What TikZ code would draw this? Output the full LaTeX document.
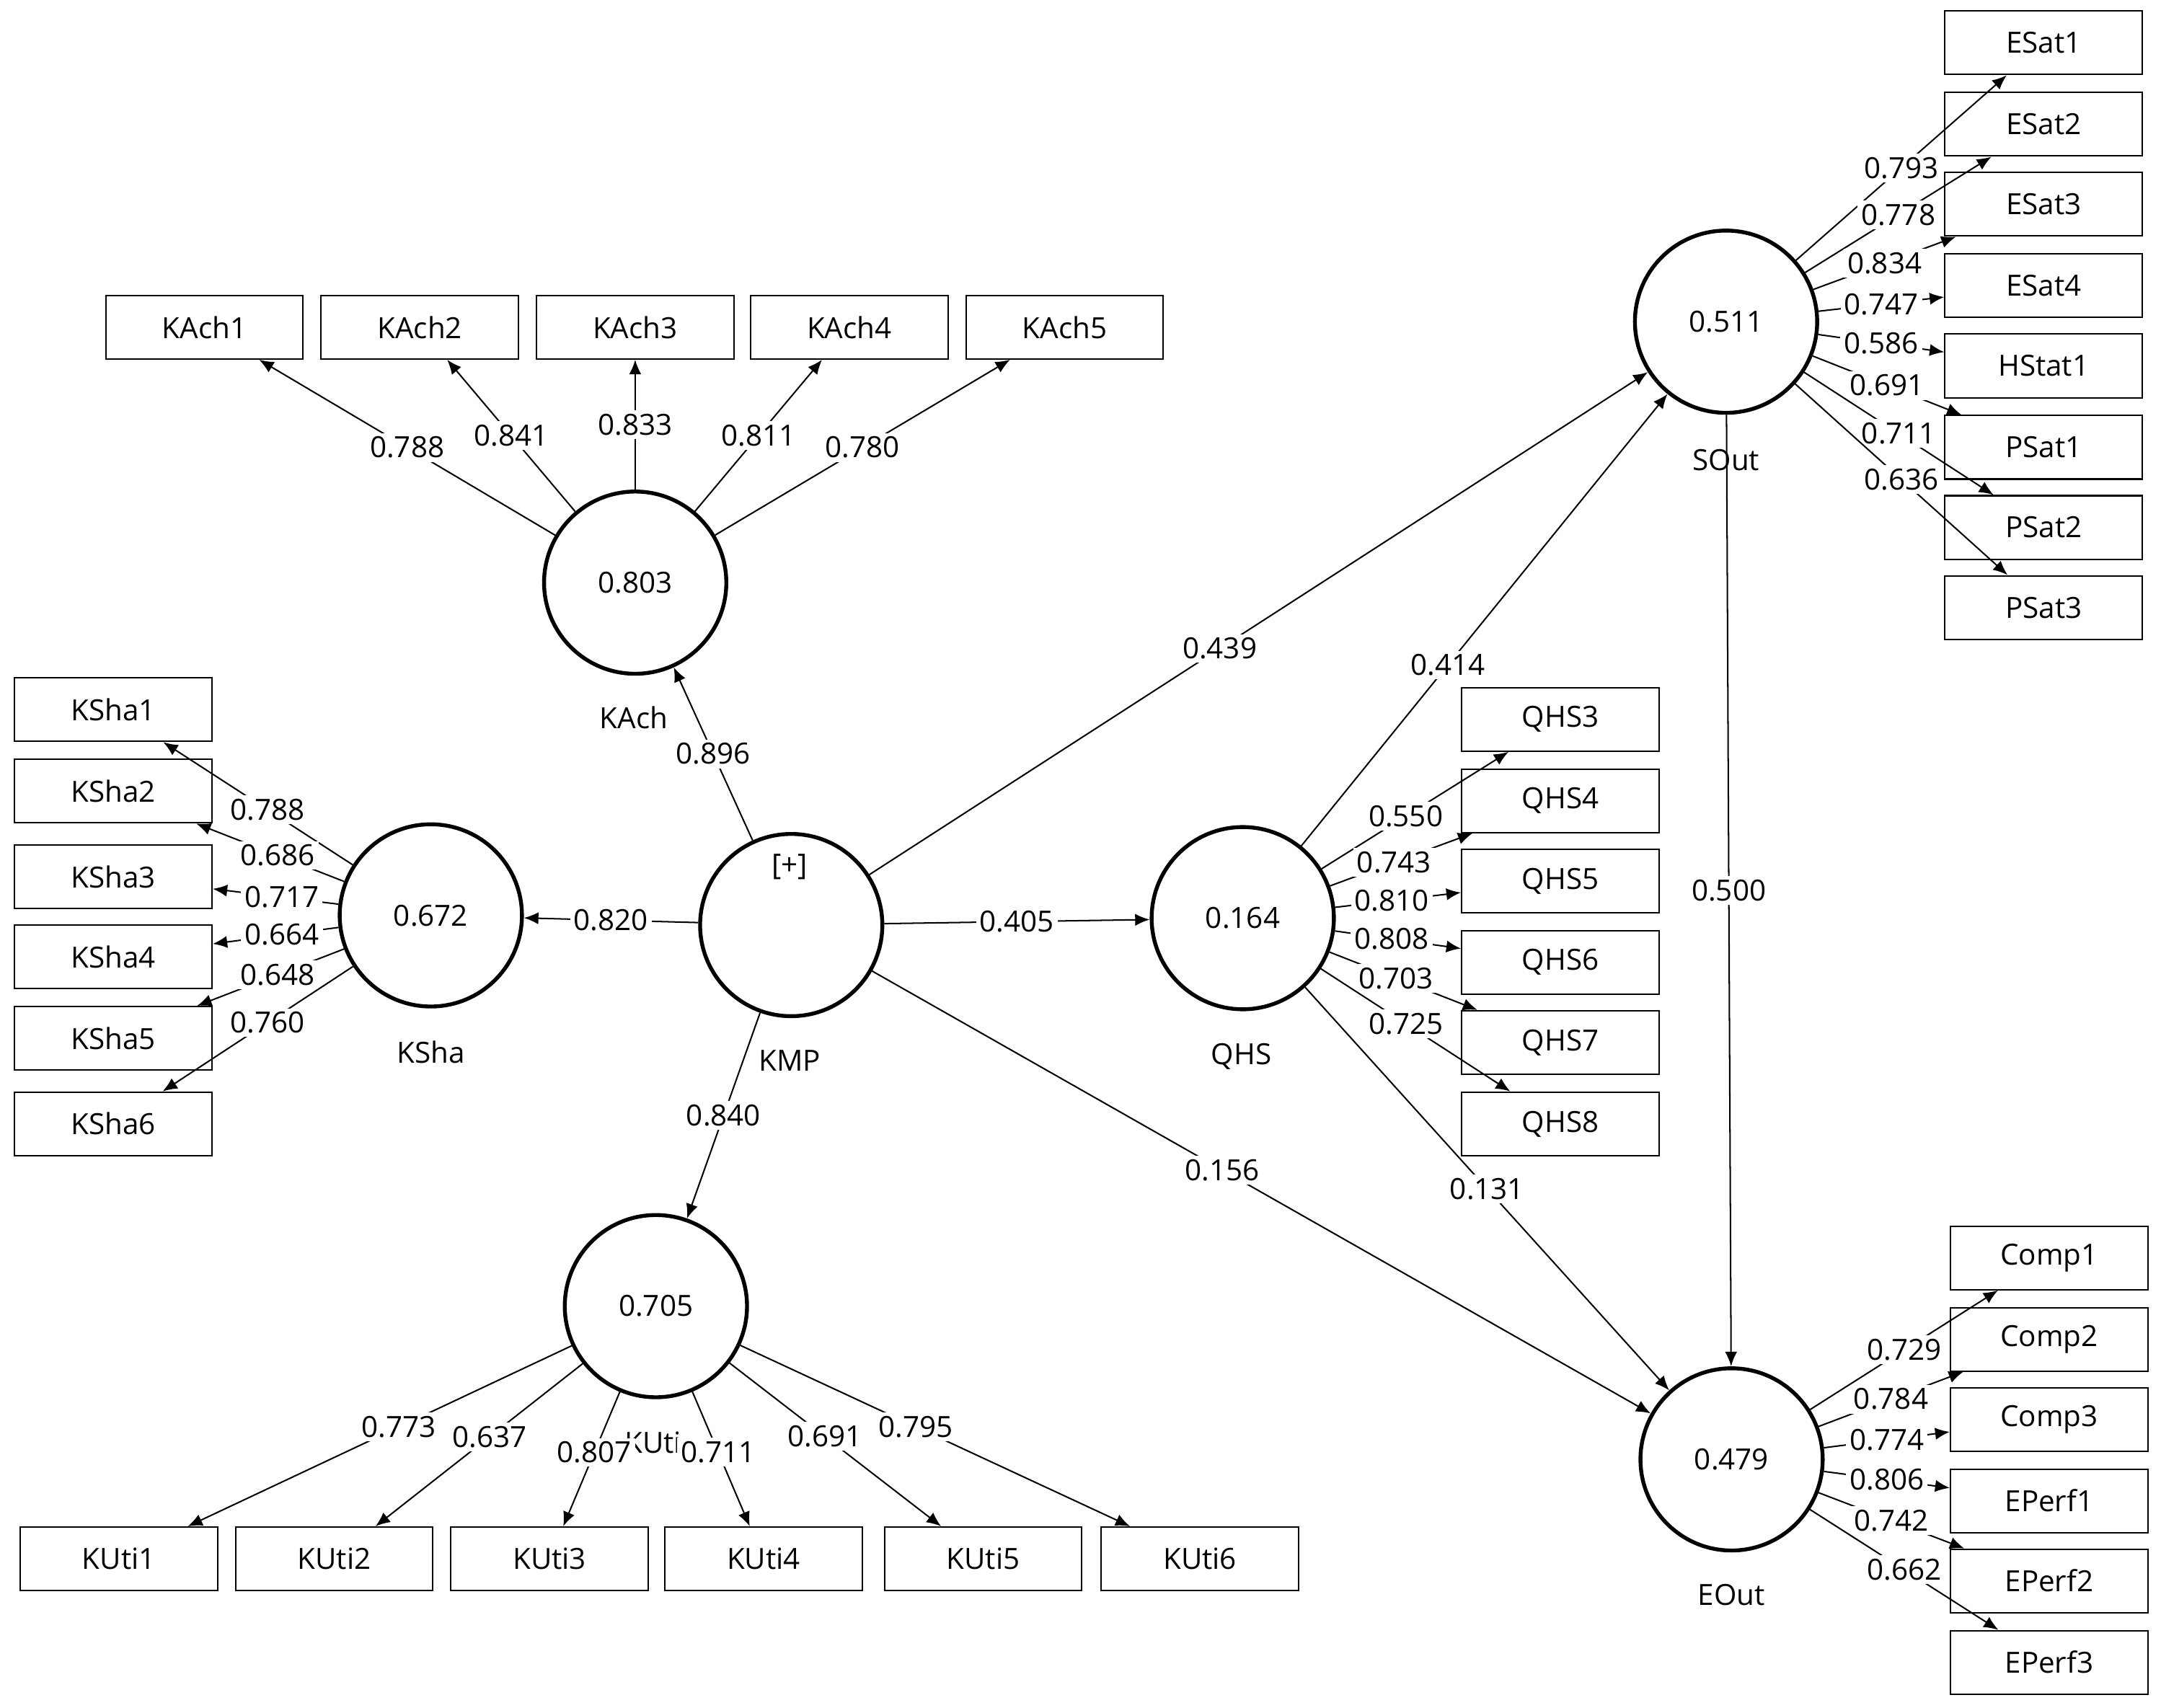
\documentclass[tikz,border=0pt]{standalone}
\usepackage{fontspec}
\setmainfont{Open Sans}
\usetikzlibrary{arrows.meta}

\tikzset{
  lv/.style={circle, draw, line width=1.6pt, minimum size=2.64cm, inner sep=0pt},
  mv/.style={draw, line width=0.6pt, minimum width=2.86cm, minimum height=0.92cm, inner sep=0pt},
  path/.style={-{Latex[length=6pt,width=5pt]}, line width=0.6pt},
  w/.style={fill=white, inner sep=1.5pt},
}

\begin{document}
\begin{tikzpicture}[x={(0.02cm,0)}, y={(0,-0.02cm)}, font=\fontsize{12}{14}\selectfont]
  \useasboundingbox (0,0) rectangle (1565,1237);

  % latent variables
  \node[lv] (KAch) at (460,422) {0.803};
  \node[lv] (KSha) at (312,663) {0.672};
  \node[lv] (KMP)  at (573,670) {};
  \node[lv] (QHS)  at (900,665) {0.164};
  \node[lv] (KUti) at (475,946) {0.705};
  \node[lv] (SOut) at (1250,233) {0.511};
  \node[lv] (EOut) at (1254,1057) {0.479};
  \node at (572,628) {[+]};

  \node at (459,520) {KAch};
  \node at (312,762) {KSha};
  \node at (572,768) {KMP};
  \node at (899,765) {QHS};
  \node at (473,1045) {KUti};
  \node at (1250,333) {SOut};
  \node at (1254,1155) {EOut};

  % indicators
  \foreach \n/\x/\v in {1/148/0.788, 2/304/0.841, 3/460/0.833, 4/615/0.811, 5/771/0.780} {
    \node[mv] (KAch\n) at (\x,237) {KAch\n};
    \draw[path] (KAch) -- (KAch\n) node[w, pos=0.5] {\v};
  }
  \foreach \n/\y/\v in {1/514/0.788, 2/573/0.686, 3/635/0.717, 4/693/0.664, 5/752/0.648, 6/814/0.760} {
    \node[mv] (KSha\n) at (82,\y) {KSha\n};
    \draw[path] (KSha) -- (KSha\n) node[w, pos=0.45] {\v};
  }
  \foreach \n/\x/\v in {1/86/0.773, 2/242/0.637, 3/398/0.807, 4/553/0.711, 5/712/0.691, 6/869/0.795} {
    \node[mv] (KUti\n) at (\x,1129) {KUti\n};
    \draw[path] (KUti) -- (KUti\n) node[w, pos=0.45] {\v};
  }
  \foreach \n/\y/\v in {3/521/0.550, 4/580/0.743, 5/638/0.810, 6/697/0.808, 7/755/0.703, 8/814/0.725} {
    \node[mv] (QHS\n) at (1130,\y) {QHS\n};
    \draw[path] (QHS) -- (QHS\n) node[w, pos=0.45] {\v};
  }
  \foreach \t/\y/\v in {ESat1/31/0.793, ESat2/90/0.778, ESat3/148/0.834, ESat4/207/0.747,
      HStat1/265/0.586, PSat1/324/0.691, PSat2/382/0.711, PSat3/440/0.636} {
    \node[mv] (\t) at (1480,\y) {\t};
    \draw[path] (SOut) -- (\t) node[w, pos=0.5] {\v};
  }
  \foreach \t/\y/\v in {Comp1/911/0.729, Comp2/970/0.784, Comp3/1028/0.774,
      EPerf1/1087/0.806, EPerf2/1145/0.742, EPerf3/1204/0.662} {
    \node[mv] (\t) at (1484,\y) {\t};
    \draw[path] (EOut) -- (\t) node[w, pos=0.5] {\v};
  }

  % structural paths
  \draw[path] (KMP) -- (KAch) node[w, pos=0.5] {0.896};
  \draw[path] (KMP) -- (KSha) node[w, pos=0.5] {0.820};
  \draw[path] (KMP) -- (KUti) node[w, pos=0.5] {0.840};
  \draw[path] (KMP) -- (QHS) node[w, pos=0.5] {0.405};
  \draw[path] (KMP) -- (SOut) node[w, pos=0.45] {0.439};
  \draw[path] (KMP) -- (EOut) node[w, pos=0.45] {0.156};
  \draw[path] (QHS) -- (SOut) node[w, pos=0.4] {0.414};
  \draw[path] (QHS) -- (EOut) node[w, pos=0.5] {0.131};
  \draw[path] (SOut) -- (EOut) node[w, pos=0.5] {0.500};
\end{tikzpicture}
\end{document}
